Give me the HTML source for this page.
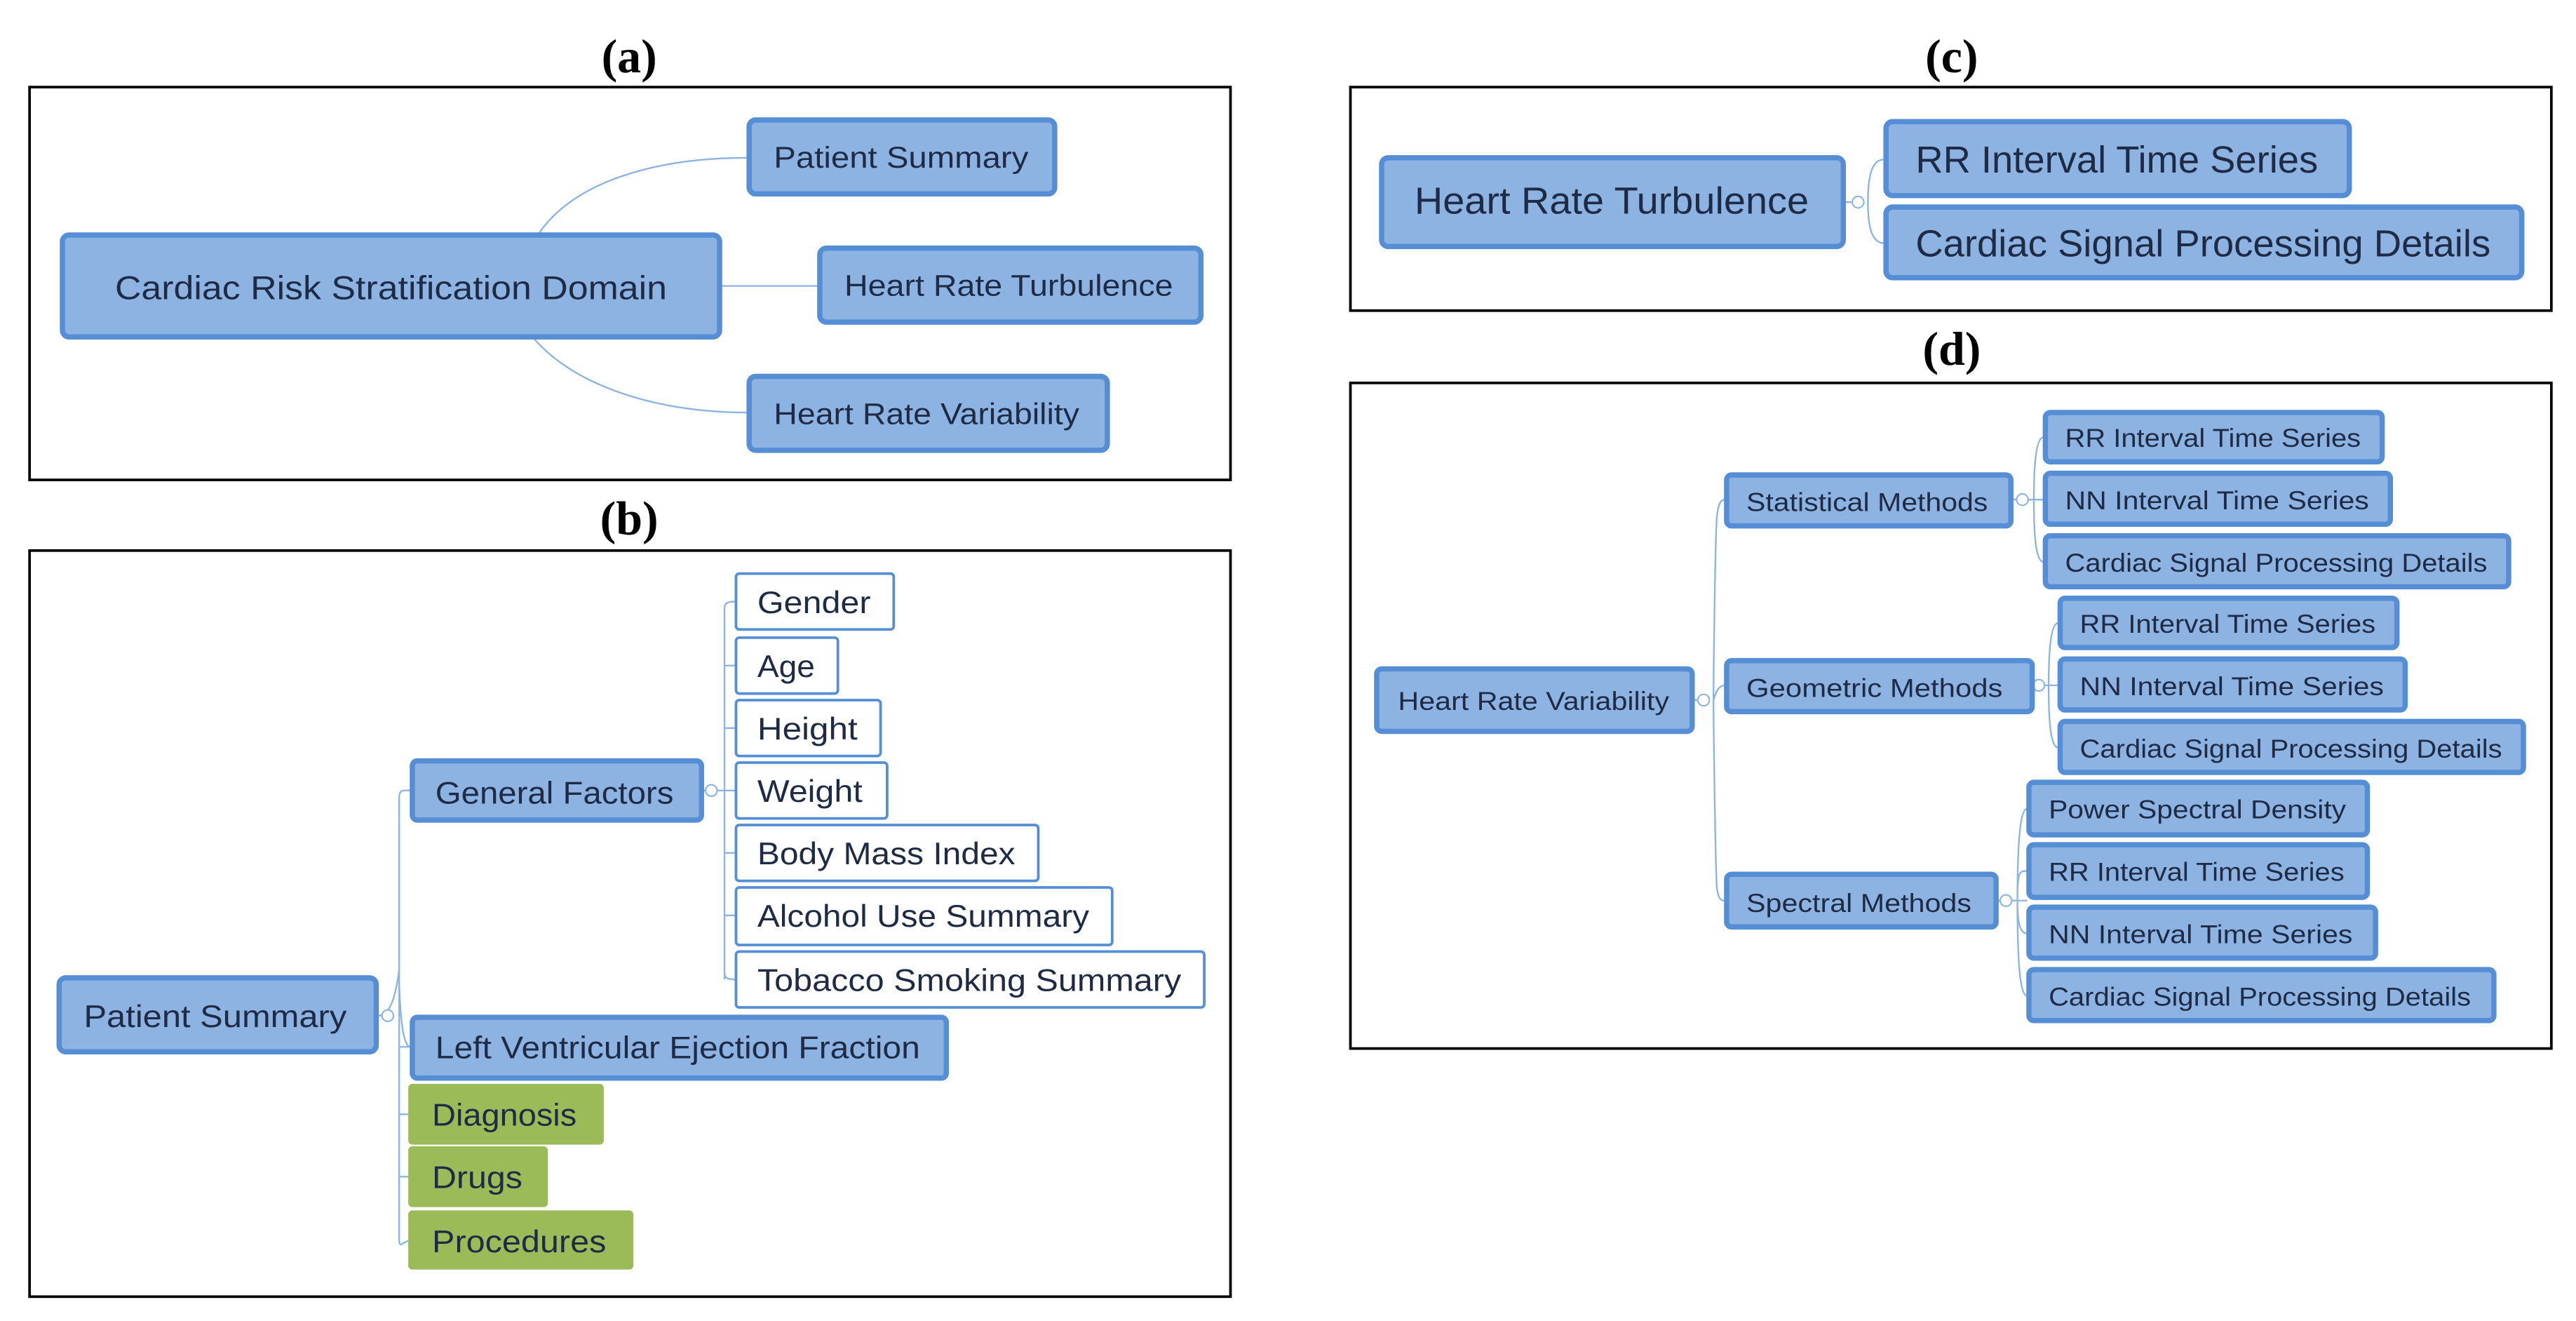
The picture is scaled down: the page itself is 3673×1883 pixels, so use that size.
<!DOCTYPE html>
<html><head><meta charset="utf-8"><style>
html,body{margin:0;padding:0;background:#fff;}
svg{display:block;}
.n{fill:#8DB3E2;stroke:#558ED5;stroke-width:3.2;}
.w{fill:#fff;stroke:#558ED5;stroke-width:1.6;}
.g{fill:#9BBB59;stroke:#9BBB59;stroke-width:1;}
.t{font-family:"Liberation Sans",sans-serif;fill:#1f2b45;}
.lab{font-family:"Liberation Serif",serif;font-weight:bold;font-size:29px;fill:#000;text-anchor:middle;}
.fr{fill:none;stroke:#000;stroke-width:1.6;}
.c{fill:none;stroke:#8DB3E2;stroke-width:1;}
.ci{fill:#fff;stroke:#8DB3E2;stroke-width:0.9;}
</style></head><body>
<svg width="3673" height="1883" viewBox="0 0 1568 803.8" preserveAspectRatio="none" xmlns="http://www.w3.org/2000/svg">
<!-- labels -->
<text class="lab" x="383" y="44">(a)</text>
<text class="lab" x="383" y="325">(b)</text>
<text class="lab" x="1188" y="44">(c)</text>
<text class="lab" x="1188" y="222">(d)</text>
<!-- frames -->
<rect class="fr" x="18" y="53" width="731" height="239"/>
<rect class="fr" x="18" y="335" width="731" height="454"/>
<rect class="fr" x="822" y="53" width="731" height="136"/>
<rect class="fr" x="822" y="233" width="731" height="405"/>

<!-- (a) connectors -->
<path class="c" d="M328 142 C350 110 400 96 455 96"/>
<path class="c" d="M439 174 L498 174"/>
<path class="c" d="M325 206 C350 235 400 251 455 251"/>
<!-- (a) nodes -->
<rect class="n" x="38" y="143" width="400" height="62" rx="4"/>
<text class="t" x="70" y="182" font-size="20" textLength="336" lengthAdjust="spacingAndGlyphs">Cardiac Risk Stratification Domain</text>
<rect class="n" x="456" y="73" width="186" height="45" rx="4"/>
<text class="t" x="471" y="102" font-size="18" textLength="155" lengthAdjust="spacingAndGlyphs">Patient Summary</text>
<rect class="n" x="499" y="151" width="232" height="45" rx="4"/>
<text class="t" x="514" y="180" font-size="18" textLength="200" lengthAdjust="spacingAndGlyphs">Heart Rate Turbulence</text>
<rect class="n" x="456" y="229" width="218" height="45" rx="4"/>
<text class="t" x="471" y="258" font-size="18" textLength="186" lengthAdjust="spacingAndGlyphs">Heart Rate Variability</text>

<!-- (b) connectors -->
<path class="c" d="M230 618 L236 618 M243 485 C243 480 246 481 250 481 M243 485 L243 755 C243 760 246 755 249 755 M243 637 L250 637 M243 678 L249 678 M243 716 L249 716"/>
<path class="c" d="M230 618 C238 618 241 605 243 590 M243 600 C244 625 246 637 250 637"/>
<circle class="ci" cx="236" cy="618" r="3.5"/>
<path class="c" d="M428 481 L448 481 M441 370 L441 596 M441 370 C441 366 445 366 448 366 M441 405 L448 405 M441 443 L448 443 M441 519 L448 519 M441 557 L448 557 M441 592 C441 596 445 596 448 596"/>
<circle class="ci" cx="433" cy="481" r="3.5"/>
<!-- (b) nodes -->
<rect class="n" x="36" y="595" width="193" height="45" rx="4"/>
<text class="t" x="51" y="625" font-size="19" textLength="160" lengthAdjust="spacingAndGlyphs">Patient Summary</text>
<rect class="n" x="251" y="463" width="176" height="36" rx="3"/>
<text class="t" x="265" y="489" font-size="19" textLength="145" lengthAdjust="spacingAndGlyphs">General Factors</text>
<rect class="w" x="448" y="349" width="96" height="34" rx="2"/>
<text class="t" x="461" y="373" font-size="19" textLength="69" lengthAdjust="spacingAndGlyphs">Gender</text>
<rect class="w" x="448" y="388" width="62" height="34" rx="2"/>
<text class="t" x="461" y="412" font-size="19" textLength="35" lengthAdjust="spacingAndGlyphs">Age</text>
<rect class="w" x="448" y="426" width="88" height="34" rx="2"/>
<text class="t" x="461" y="450" font-size="19" textLength="61" lengthAdjust="spacingAndGlyphs">Height</text>
<rect class="w" x="448" y="464" width="92" height="34" rx="2"/>
<text class="t" x="461" y="488" font-size="19" textLength="64" lengthAdjust="spacingAndGlyphs">Weight</text>
<rect class="w" x="448" y="502" width="184" height="34" rx="2"/>
<text class="t" x="461" y="526" font-size="19" textLength="157" lengthAdjust="spacingAndGlyphs">Body Mass Index</text>
<rect class="w" x="448" y="540" width="229" height="35" rx="2"/>
<text class="t" x="461" y="564" font-size="19" textLength="202" lengthAdjust="spacingAndGlyphs">Alcohol Use Summary</text>
<rect class="w" x="448" y="579" width="285" height="34" rx="2"/>
<text class="t" x="461" y="603" font-size="19" textLength="258" lengthAdjust="spacingAndGlyphs">Tobacco Smoking Summary</text>
<rect class="n" x="251" y="619" width="325" height="37" rx="3"/>
<text class="t" x="265" y="644" font-size="19" textLength="295" lengthAdjust="spacingAndGlyphs">Left Ventricular Ejection Fraction</text>
<rect class="g" x="249" y="660" width="118" height="36" rx="2"/>
<text class="t" x="263" y="685" font-size="19" textLength="88" lengthAdjust="spacingAndGlyphs">Diagnosis</text>
<rect class="g" x="249" y="698" width="84" height="36" rx="2"/>
<text class="t" x="263" y="723" font-size="19" textLength="55" lengthAdjust="spacingAndGlyphs">Drugs</text>
<rect class="g" x="249" y="737" width="136" height="35" rx="2"/>
<text class="t" x="263" y="762" font-size="19" textLength="106" lengthAdjust="spacingAndGlyphs">Procedures</text>

<!-- (c) -->
<path class="c" d="M1123 123 L1130 123 M1137 123 C1137 105 1140 97 1147 97 M1137 123 C1137 140 1140 148 1147 148"/>
<circle class="ci" cx="1131" cy="123" r="3.5"/>
<rect class="n" x="841" y="96" width="281" height="54" rx="4"/>
<text class="t" x="861" y="130" font-size="23" textLength="240" lengthAdjust="spacingAndGlyphs">Heart Rate Turbulence</text>
<rect class="n" x="1148" y="74" width="282" height="45" rx="4"/>
<text class="t" x="1166" y="105" font-size="23" textLength="245" lengthAdjust="spacingAndGlyphs">RR Interval Time Series</text>
<rect class="n" x="1148" y="126" width="387" height="43" rx="4"/>
<text class="t" x="1166" y="156" font-size="23" textLength="350" lengthAdjust="spacingAndGlyphs">Cardiac Signal Processing Details</text>

<!-- (d) connectors -->
<path class="c" d="M1031 426 L1037 426 M1043 426 C1043 440 1044 520 1045 540 C1046 548 1048 548 1050 548 M1043 426 C1043 410 1044 330 1045 315 C1046 305 1048 304 1050 304 M1043 426 C1045 419 1047 417 1050 417"/>
<circle class="ci" cx="1037" cy="426" r="3.5"/>
<path class="c" d="M1225 304 L1244 304 M1238 304 C1238 285 1239 266 1244 266 M1238 304 C1238 325 1239 342 1244 342"/>
<circle class="ci" cx="1231" cy="304" r="3.5"/>
<path class="c" d="M1238 417 L1253 417 M1247 417 C1247 398 1248 379 1253 379 M1247 417 C1247 438 1248 455 1253 455"/>
<circle class="ci" cx="1241" cy="417" r="3.5"/>
<path class="c" d="M1216 548 L1234 548 M1228 548 C1228 520 1229 492 1234 492 M1228 548 C1228 530 1229 530 1234 530 M1228 548 C1228 560 1229 568 1234 568 M1228 548 C1228 580 1229 606 1234 606"/>
<circle class="ci" cx="1221" cy="548" r="3.5"/>
<!-- (d) nodes -->
<rect class="n" x="838" y="407" width="192" height="38" rx="3"/>
<text class="t" x="851" y="432" font-size="16" textLength="165" lengthAdjust="spacingAndGlyphs">Heart Rate Variability</text>
<rect class="n" x="1051" y="289" width="173" height="31" rx="3"/>
<text class="t" x="1063" y="311" font-size="16" textLength="147" lengthAdjust="spacingAndGlyphs">Statistical Methods</text>
<rect class="n" x="1051" y="402" width="186" height="31" rx="3"/>
<text class="t" x="1063" y="424" font-size="16" textLength="156" lengthAdjust="spacingAndGlyphs">Geometric Methods</text>
<rect class="n" x="1051" y="532" width="164" height="32" rx="3"/>
<text class="t" x="1063" y="555" font-size="16" textLength="137" lengthAdjust="spacingAndGlyphs">Spectral Methods</text>

<rect class="n" x="1245" y="251" width="205" height="30" rx="3"/>
<text class="t" x="1257" y="272" font-size="16" textLength="180" lengthAdjust="spacingAndGlyphs">RR Interval Time Series</text>
<rect class="n" x="1245" y="288" width="210" height="31" rx="3"/>
<text class="t" x="1257" y="310" font-size="16" textLength="185" lengthAdjust="spacingAndGlyphs">NN Interval Time Series</text>
<rect class="n" x="1245" y="326" width="282" height="31" rx="3"/>
<text class="t" x="1257" y="348" font-size="16" textLength="257" lengthAdjust="spacingAndGlyphs">Cardiac Signal Processing Details</text>

<rect class="n" x="1254" y="364" width="205" height="30" rx="3"/>
<text class="t" x="1266" y="385" font-size="16" textLength="180" lengthAdjust="spacingAndGlyphs">RR Interval Time Series</text>
<rect class="n" x="1254" y="401" width="210" height="31" rx="3"/>
<text class="t" x="1266" y="423" font-size="16" textLength="185" lengthAdjust="spacingAndGlyphs">NN Interval Time Series</text>
<rect class="n" x="1254" y="439" width="282" height="31" rx="3"/>
<text class="t" x="1266" y="461" font-size="16" textLength="257" lengthAdjust="spacingAndGlyphs">Cardiac Signal Processing Details</text>

<rect class="n" x="1235" y="476" width="206" height="32" rx="3"/>
<text class="t" x="1247" y="498" font-size="16" textLength="181" lengthAdjust="spacingAndGlyphs">Power Spectral Density</text>
<rect class="n" x="1235" y="514" width="206" height="32" rx="3"/>
<text class="t" x="1247" y="536" font-size="16" textLength="180" lengthAdjust="spacingAndGlyphs">RR Interval Time Series</text>
<rect class="n" x="1235" y="552" width="211" height="31" rx="3"/>
<text class="t" x="1247" y="574" font-size="16" textLength="185" lengthAdjust="spacingAndGlyphs">NN Interval Time Series</text>
<rect class="n" x="1235" y="590" width="283" height="31" rx="3"/>
<text class="t" x="1247" y="612" font-size="16" textLength="257" lengthAdjust="spacingAndGlyphs">Cardiac Signal Processing Details</text>
</svg>
</body></html>
